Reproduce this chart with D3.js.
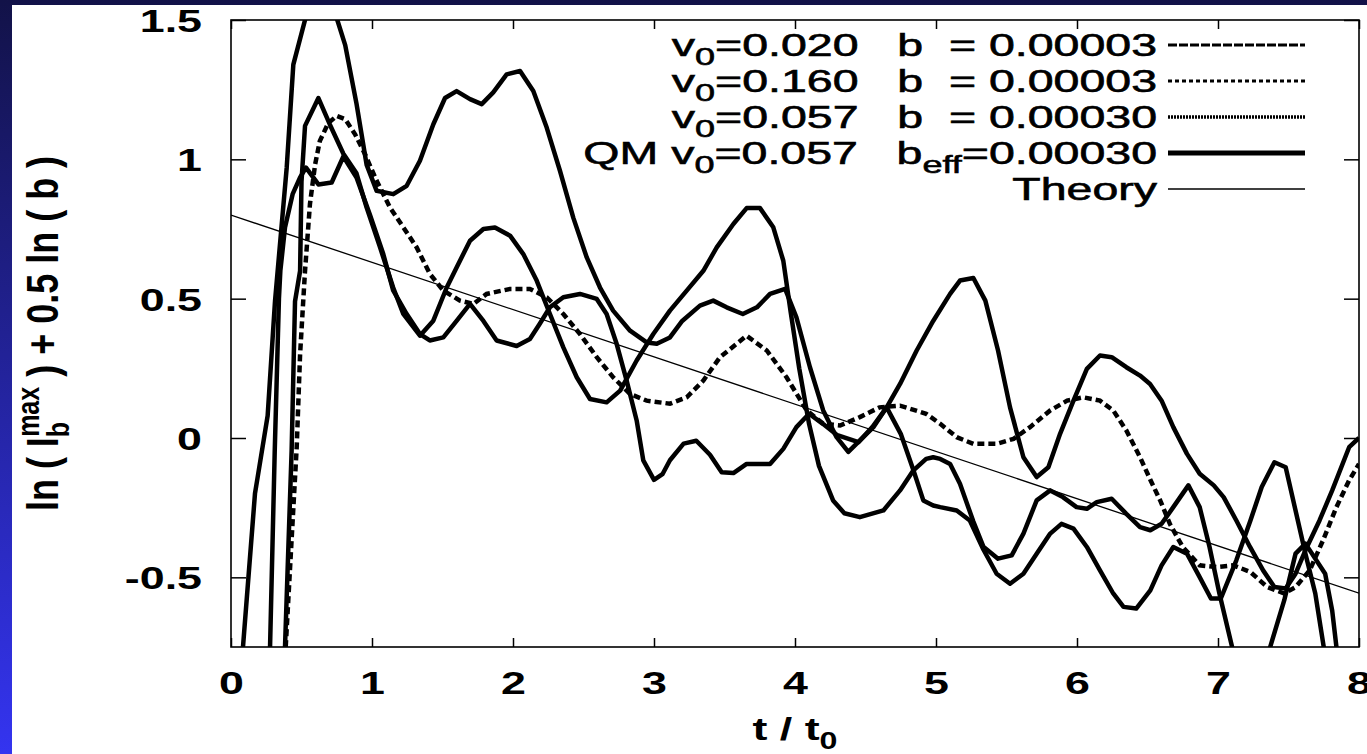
<!DOCTYPE html>
<html>
<head>
<meta charset="utf-8">
<script src="https://cdn.jsdelivr.net/npm/d3@7"></script>
<style>
  body { margin: 0; overflow: hidden; background: #fff; }
</style>
</head>
<body>
<div id="chart"></div>
<script>
// ---- data ----
const xTicks = [0, 1, 2, 3, 4, 5, 6, 7, 8];
const yTicks = [-0.5, 0, 0.5, 1, 1.5];

// legend rows: text pieces, "sub" marks a subscript
const legendRows = [
  [["v"], ["0", "sub"], ["=0.020   b  = 0.00003"]],
  [["v"], ["0", "sub"], ["=0.160   b  = 0.00003"]],
  [["v"], ["0", "sub"], ["=0.057   b  = 0.00030"]],
  [["QM v"], ["0", "sub"], ["=0.057   b"], ["eff", "sub"], ["=0.00030"]],
  [["Theory"]]
];
const legendKeys = ["a", "b", "c", "qm", "theory"];

const theory = [[0, 0.8], [8, -0.557]];

// v0=0.020, b=0.00003
const curveA = [
  [0.277, -0.75], [0.31, -0.05], [0.34, 0.5], [0.35, 0.6], [0.383, 0.755], [0.437, 0.875],
  [0.49, 0.935], [0.532, 0.97], [0.62, 0.91], [0.714, 0.917], [0.797, 1.01], [0.89, 0.935],
  [0.986, 0.80], [1.08, 0.66], [1.15, 0.53], [1.246, 0.445], [1.34, 0.373], [1.41, 0.35],
  [1.506, 0.361], [1.6, 0.42], [1.695, 0.481], [1.79, 0.42], [1.884, 0.35], [2.026, 0.33],
  [2.12, 0.355], [2.19, 0.41], [2.262, 0.469], [2.357, 0.505], [2.475, 0.517], [2.594, 0.499],
  [2.664, 0.445], [2.735, 0.338], [2.806, 0.206], [2.877, 0.063], [2.924, -0.08], [3.0, -0.15],
  [3.06, -0.13], [3.113, -0.08], [3.21, -0.02], [3.3, -0.01], [3.397, -0.06], [3.48, -0.123],
  [3.563, -0.126], [3.657, -0.093], [3.823, -0.093], [3.917, -0.039], [4.01, 0.039], [4.1, 0.087],
  [4.2, 0.05], [4.3, 0.01], [4.45, -0.015], [4.55, 0.04], [4.65, 0.11], [4.75, 0.015],
  [4.84, -0.116], [4.91, -0.224], [4.98, -0.242], [5.03, -0.248], [5.147, -0.26], [5.24, -0.296],
  [5.336, -0.4], [5.43, -0.487], [5.525, -0.523], [5.62, -0.487], [5.714, -0.415], [5.81, -0.343],
  [5.89, -0.308], [5.975, -0.325], [6.07, -0.391], [6.163, -0.475], [6.257, -0.558], [6.33, -0.606],
  [6.42, -0.612], [6.52, -0.547], [6.6, -0.457], [6.683, -0.391], [6.78, -0.415], [6.87, -0.499],
  [6.95, -0.576], [7.02, -0.576], [7.13, -0.439], [7.23, -0.296], [7.31, -0.176], [7.4, -0.087],
  [7.48, -0.105], [7.55, -0.26], [7.62, -0.415], [7.69, -0.558], [7.75, -0.75], [7.8, -0.9]
];

// v0=0.160, b=0.00003 (dashed)
const curveB = [
  [0.388, -0.75], [0.466, -0.033], [0.49, 0.3], [0.525, 0.6], [0.56, 0.84], [0.596, 0.98],
  [0.63, 1.066], [0.69, 1.13], [0.75, 1.156], [0.81, 1.144], [0.88, 1.09], [0.95, 1.019],
  [1.033, 0.923], [1.128, 0.827], [1.222, 0.756], [1.317, 0.684], [1.41, 0.589], [1.506, 0.529],
  [1.624, 0.493], [1.72, 0.481], [1.813, 0.517], [1.979, 0.535], [2.12, 0.535], [2.239, 0.505],
  [2.357, 0.445], [2.475, 0.373], [2.594, 0.29], [2.71, 0.218], [2.83, 0.158], [2.948, 0.134],
  [3.113, 0.123], [3.232, 0.146], [3.35, 0.206], [3.468, 0.29], [3.657, 0.367], [3.8, 0.314],
  [3.94, 0.218], [4.083, 0.099], [4.2, 0.051], [4.32, 0.045], [4.46, 0.075], [4.6, 0.11],
  [4.745, 0.116], [4.93, 0.087], [5.03, 0.051], [5.147, 0.003], [5.265, -0.021], [5.43, -0.021],
  [5.55, -0.003], [5.667, 0.039], [5.81, 0.099], [5.93, 0.134], [6.045, 0.146], [6.163, 0.134],
  [6.257, 0.099], [6.35, 0.027], [6.447, -0.069], [6.52, -0.15], [6.59, -0.224], [6.66, -0.31],
  [6.75, -0.391], [6.87, -0.457], [6.99, -0.463], [7.11, -0.457], [7.23, -0.481], [7.35, -0.535],
  [7.47, -0.558], [7.55, -0.535], [7.65, -0.475], [7.745, -0.367], [7.84, -0.248], [7.93, -0.152],
  [8.0, -0.093]
];

// v0=0.057, b=0.00030
const curveC = [
  [0.383, -0.75], [0.43, -0.045], [0.454, 0.49], [0.49, 0.6], [0.5, 0.92], [0.525, 1.12],
  [0.62, 1.22], [0.70, 1.126], [0.797, 1.02], [0.89, 0.95], [0.962, 0.827], [1.057, 0.684],
  [1.15, 0.54], [1.222, 0.445], [1.34, 0.367], [1.435, 0.421], [1.53, 0.54], [1.6, 0.612],
  [1.695, 0.708], [1.79, 0.75], [1.872, 0.755], [1.979, 0.726], [2.073, 0.66], [2.168, 0.565],
  [2.262, 0.445], [2.357, 0.325], [2.452, 0.218], [2.546, 0.14], [2.664, 0.128], [2.76, 0.17],
  [2.877, 0.278], [2.995, 0.373], [3.113, 0.457], [3.232, 0.529], [3.35, 0.60], [3.445, 0.684],
  [3.563, 0.768], [3.657, 0.825], [3.752, 0.825], [3.846, 0.756], [3.917, 0.636], [3.97, 0.45],
  [4.03, 0.25], [4.1, 0.05], [4.17, -0.1], [4.27, -0.224], [4.35, -0.27], [4.46, -0.284],
  [4.627, -0.26], [4.745, -0.188], [4.84, -0.116], [4.93, -0.075], [4.98, -0.069], [5.03, -0.075],
  [5.1, -0.093], [5.17, -0.164], [5.265, -0.3], [5.336, -0.39], [5.44, -0.433], [5.537, -0.421],
  [5.62, -0.343], [5.714, -0.224], [5.81, -0.188], [5.9, -0.212], [5.997, -0.248], [6.07, -0.254],
  [6.14, -0.23], [6.246, -0.218], [6.35, -0.272], [6.447, -0.32], [6.52, -0.331], [6.6, -0.308],
  [6.683, -0.248], [6.79, -0.17], [6.87, -0.248], [6.94, -0.391], [7.01, -0.558], [7.1, -0.75],
  [7.23, -1.0], [7.37, -0.75], [7.47, -0.582], [7.55, -0.415], [7.62, -0.379], [7.76, -0.487],
  [7.81, -0.62], [7.84, -0.75], [7.88, -0.9]
];

// QM v0=0.057, b_eff=0.00030
const curveQM = [
  [0.085, -0.75], [0.17, -0.2], [0.26, 0.08], [0.312, 0.49], [0.395, 0.97], [0.442, 1.34],
  [0.525, 1.5], [0.635, 1.69], [0.754, 1.5], [0.81, 1.41], [0.89, 1.2], [0.962, 0.98],
  [1.033, 0.887], [1.151, 0.875], [1.246, 0.905], [1.34, 0.995], [1.435, 1.126], [1.518, 1.22],
  [1.60, 1.245], [1.695, 1.216], [1.778, 1.198], [1.86, 1.24], [1.955, 1.305], [2.05, 1.317],
  [2.144, 1.245], [2.239, 1.114], [2.333, 0.959], [2.428, 0.79], [2.523, 0.648], [2.617, 0.54],
  [2.71, 0.457], [2.83, 0.385], [2.948, 0.343], [3.02, 0.338], [3.113, 0.361], [3.2, 0.42],
  [3.326, 0.475], [3.42, 0.493], [3.515, 0.469], [3.63, 0.445], [3.73, 0.469], [3.823, 0.517],
  [3.93, 0.535], [4.01, 0.433], [4.106, 0.254], [4.2, 0.099], [4.295, 0.003], [4.378, -0.05],
  [4.484, 0.003], [4.556, 0.039], [4.65, 0.11], [4.745, 0.194], [4.863, 0.314], [4.98, 0.42],
  [5.1, 0.517], [5.17, 0.565], [5.265, 0.574], [5.35, 0.493], [5.44, 0.314], [5.525, 0.11],
  [5.62, -0.069], [5.714, -0.14], [5.797, -0.105], [5.88, 0.015], [5.975, 0.134], [6.07, 0.248],
  [6.163, 0.296], [6.246, 0.29], [6.35, 0.254], [6.447, 0.224], [6.518, 0.194], [6.6, 0.134],
  [6.683, 0.039], [6.78, -0.057], [6.87, -0.128], [6.97, -0.17], [7.04, -0.212], [7.13, -0.296],
  [7.227, -0.391], [7.32, -0.475], [7.4, -0.535], [7.48, -0.54], [7.55, -0.487], [7.62, -0.403],
  [7.72, -0.296], [7.81, -0.188], [7.93, -0.033], [8.0, 0.0]
];

// ---- drawing ----
const width = 1367, height = 754;
const plot = { left: 231, right: 1359, top: 20, bottom: 647 };
const SX = 1.4;          // the picture is stretched sideways, text too
const font = "'Liberation Sans', Arial, Helvetica, sans-serif";

const svg = d3.select("#chart").append("svg")
  .attr("width", width)
  .attr("height", height);

const defs = svg.append("defs");
const grad = defs.append("linearGradient")
  .attr("id", "bg")
  .attr("x1", 0).attr("y1", 0).attr("x2", 0).attr("y2", 1);
grad.append("stop").attr("offset", "0%").attr("stop-color", "#121248");
grad.append("stop").attr("offset", "100%").attr("stop-color", "#3434f0");

svg.append("rect").attr("width", width).attr("height", height).attr("fill", "url(#bg)");
svg.append("rect")
  .attr("x", 12).attr("y", 5)
  .attr("width", width - 12).attr("height", height - 5)
  .attr("fill", "#fff");

defs.append("clipPath").attr("id", "plotclip")
  .append("rect")
  .attr("x", plot.left).attr("y", plot.top)
  .attr("width", plot.right - plot.left)
  .attr("height", plot.bottom - plot.top);

const x = d3.scaleLinear().domain([0, 8]).range([plot.left, plot.right]);
const y = d3.scaleLinear().domain([-0.75, 1.5]).range([plot.bottom, plot.top]);

function styleAxis(g) {
  g.select(".domain").remove();
  g.selectAll(".tick line").attr("stroke", "#000").attr("stroke-width", 1.5);
  g.selectAll("text")
    .attr("fill", "#000")
    .attr("font-family", font)
    .attr("font-weight", "bold")
    .attr("font-size", 32);
}

// bottom axis with labels
svg.append("g")
  .attr("transform", `translate(0,${plot.bottom})`)
  .call(d3.axisBottom(x).tickValues(xTicks).tickSize(-9).tickPadding(24).tickFormat(d => String(d)))
  .call(styleAxis)
  .selectAll("text")
  .attr("transform", `scale(${SX},1)`);

// top mirror ticks
svg.append("g")
  .attr("transform", `translate(0,${plot.top})`)
  .call(d3.axisTop(x).tickValues(xTicks).tickSize(-9).tickFormat(""))
  .call(styleAxis);

// left axis with labels
svg.append("g")
  .attr("transform", `translate(${plot.left},0)`)
  .call(d3.axisLeft(y).tickValues(yTicks).tickSize(-15).tickFormat(d => String(d)))
  .call(styleAxis)
  .selectAll("text")
  .attr("x", -29 / SX)
  .attr("dy", "0.36em")
  .attr("transform", `scale(${SX},1)`);

// right mirror ticks
svg.append("g")
  .attr("transform", `translate(${plot.right},0)`)
  .call(d3.axisRight(y).tickValues(yTicks).tickSize(-15).tickFormat(""))
  .call(styleAxis);

// frame
svg.append("rect")
  .attr("x", plot.left).attr("y", plot.top)
  .attr("width", plot.right - plot.left)
  .attr("height", plot.bottom - plot.top)
  .attr("fill", "none")
  .attr("stroke", "#000")
  .attr("stroke-width", 1.6);

// curves
const line = d3.line().x(d => x(d[0])).y(d => y(d[1]));
const curves = svg.append("g").attr("clip-path", "url(#plotclip)");

curves.append("path").datum(theory)
  .attr("d", line).attr("fill", "none").attr("stroke", "#000").attr("stroke-width", 1.3);

[curveA, curveC, curveQM].forEach(c => {
  curves.append("path").datum(c)
    .attr("d", line)
    .attr("fill", "none")
    .attr("stroke", "#000")
    .attr("stroke-width", 4.5)
    .attr("stroke-linejoin", "round");
});

curves.append("path").datum(curveB)
  .attr("d", line)
  .attr("fill", "none")
  .attr("stroke", "#000")
  .attr("stroke-width", 4.5)
  .attr("stroke-dasharray", "7,4");

// legend
const keyStyle = {
  a: { w: 3, dash: "9,2" },
  b: { w: 3, dash: "4,3" },
  c: { w: 3.5, dash: "2,1" },
  qm: { w: 5, dash: null },
  theory: { w: 1.3, dash: null }
};
const LSX = 1.5;
const legend = svg.append("g").attr("font-family", font);
legendRows.forEach((pieces, i) => {
  const cy = 45 + i * 36;
  const g = legend.append("g").attr("transform", `translate(1157,${cy + 11})`);
  const t = g.append("text")
    .attr("text-anchor", "end")
    .attr("font-size", 31)
    .attr("fill", "#000")
    .attr("stroke", "#000")
    .attr("stroke-width", 0.6)
    .attr("transform", `scale(${LSX},1)`)
    .style("white-space", "pre");
  let shifted = 0;
  pieces.forEach(([s, kind]) => {
    const sp = t.append("tspan").text(s);
    if (kind === "sub") {
      sp.attr("font-size", 24).attr("dy", 9 - shifted);
      shifted = 9;
    } else if (shifted) {
      sp.attr("dy", -shifted);
      shifted = 0;
    }
  });
  const st = keyStyle[legendKeys[i]];
  legend.append("line")
    .attr("x1", 1168).attr("x2", 1305)
    .attr("y1", cy).attr("y2", cy)
    .attr("stroke", "#000")
    .attr("stroke-width", st.w)
    .attr("stroke-dasharray", st.dash);
});

// axis titles
const xt = svg.append("g")
  .attr("transform", `translate(${(plot.left + plot.right) / 2},740)`)
  .append("text")
  .attr("text-anchor", "middle")
  .attr("font-family", font)
  .attr("font-weight", "bold")
  .attr("font-size", 32)
  .attr("transform", `scale(${SX},1)`)
  .style("white-space", "pre");
xt.append("tspan").text("t / t");
xt.append("tspan").attr("font-size", 23).attr("dy", 9).text("0");

const yt = svg.append("g")
  .attr("transform", `translate(58,${(plot.top + plot.bottom) / 2}) scale(1.25,1) rotate(-90)`)
  .append("text")
  .attr("text-anchor", "middle")
  .attr("font-family", font)
  .attr("font-weight", "bold")
  .attr("font-size", 36)
  .style("white-space", "pre");
yt.append("tspan").text("ln ( I");
yt.append("tspan").attr("font-size", 25).attr("dy", 9).text("b");
yt.append("tspan").attr("font-size", 25).attr("dx", -15).attr("dy", -24).text("max");
yt.append("tspan").attr("dy", 15).text(" ) + 0.5 ln ( b )");
</script>
</body>
</html>
